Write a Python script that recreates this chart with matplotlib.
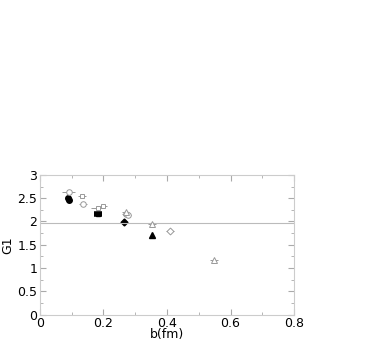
import matplotlib
matplotlib.use("Agg")
import matplotlib.pyplot as plt
from matplotlib.ticker import MultipleLocator

plt.rcParams['font.family'] = ['DejaVu Sans']

# open gray octagons/circles
circ_x = [0.091, 0.135, 0.27, 0.276]
circ_y = [2.64, 2.38, 2.16, 2.13]
circ_xerr = [0.02, 0.012, 0.012, 0.012]
circ_yerr = [0.03, 0.02, 0.03, 0.03]

# open gray squares / ellipses
sq_x = [0.133, 0.182, 0.2]
sq_y = [2.55, 2.30, 2.34]
sq_xerr = [0.012, 0.02, 0.012]
sq_yerr = [0.02, 0.02, 0.02]

# open gray triangles
tri_x = [0.27, 0.353, 0.547]
tri_y = [2.21, 1.95, 1.17]
tri_xerr = [0.012, 0.012, 0.012]
tri_yerr = [0.03, 0.02, 0.02]

# open gray diamond
dia_x = [0.41]
dia_y = [1.80]
dia_xerr = [0.012]

# filled black
bc_x = [0.087, 0.093]
bc_y = [2.50, 2.47]
bsq_x = [0.182]
bsq_y = [2.17]
bd_x = [0.265]
bd_y = [1.98]
bt_x = [0.353]
bt_y = [1.71]

hline_y = 1.96

fig = plt.figure(figsize=(3.87, 3.43), dpi=100)
ax = fig.add_axes([0.103, 0.083, 0.657, 0.407])

gray = '#999999'
kw = dict(ls='none', ecolor=gray, elinewidth=0.7, capsize=0, mfc='white', mec=gray, mew=0.7)
ax.errorbar(circ_x, circ_y, xerr=circ_xerr, yerr=circ_yerr, fmt='o', ms=4, **kw)
ax.errorbar(sq_x, sq_y, xerr=sq_xerr, yerr=sq_yerr, fmt='s', ms=3.5, **kw)
ax.errorbar(tri_x, tri_y, xerr=tri_xerr, yerr=tri_yerr, fmt='^', ms=4, **kw)
ax.errorbar(dia_x, dia_y, xerr=dia_xerr, fmt='D', ms=3.5, **kw)

ax.plot(bc_x, bc_y, 'o', color='black', ms=4)
ax.errorbar(bsq_x, bsq_y, xerr=[0.013], fmt='s', color='black', ms=3.5, ecolor='black', elinewidth=4)
ax.plot(bd_x, bd_y, 'D', color='black', ms=3.5)
ax.plot(bt_x, bt_y, '^', color='black', ms=5)

ax.axhline(hline_y, color='#bbbbbb', lw=0.8)

ax.set_xlim(0, 0.8)
ax.set_ylim(0, 3)
ax.xaxis.set_major_locator(MultipleLocator(0.2))
ax.xaxis.set_minor_locator(MultipleLocator(0.1))
ax.yaxis.set_major_locator(MultipleLocator(0.5))
ax.yaxis.set_minor_locator(MultipleLocator(0.25))
ax.xaxis.set_major_formatter(plt.FuncFormatter(lambda v, p: '0' if v == 0 else f'{v:g}'))
ax.yaxis.set_major_formatter(plt.FuncFormatter(lambda v, p: '0' if v == 0 else f'{v:g}'))
ax.tick_params(which='both', direction='in', top=True, right=True, color='#aaaaaa', labelsize=9, pad=2)
ax.tick_params(axis='x', pad=1.5)
ax.tick_params(which='major', length=4, width=0.8)
ax.tick_params(which='minor', length=2, width=0.6)
for s in ax.spines.values():
    s.set_color('#cccccc')
    s.set_linewidth(0.8)
ax.set_xlabel('b(fm)', fontsize=9, labelpad=-1)
ax.set_ylabel('G1', fontsize=9, labelpad=2)

fig.savefig('out.png', dpi=100)
